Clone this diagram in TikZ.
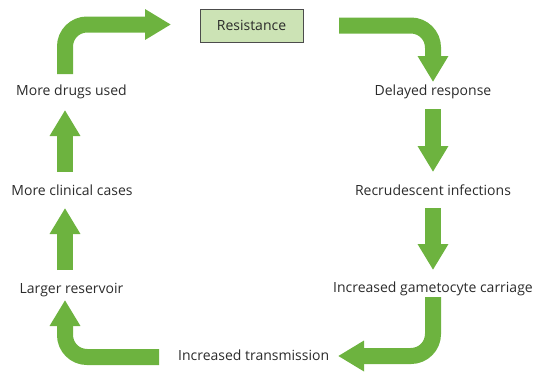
\documentclass[tikz,border=0pt]{standalone}
\usepackage{fontspec}
\setmainfont{Open Sans}
\usetikzlibrary{arrows.meta}
\definecolor{arrgreen}{HTML}{6DB33F}
\definecolor{boxfill}{HTML}{CCE3B5}
\definecolor{txt}{HTML}{2B2B2B}
\begin{document}
\begin{tikzpicture}[x=1pt,y=-1pt,
  lbl/.style={text=txt,font=\fontsize{14}{16}\selectfont,inner sep=0pt},
  bigarrow/.style={draw=arrgreen,line width=16pt,rounded corners=22pt,
    -{Triangle[width=29pt,length=26pt,fill=arrgreen]}}]
\useasboundingbox (0,0) rectangle (536,373);
\node[lbl,draw=black!70,fill=boxfill,line width=1pt,minimum width=103pt,minimum height=33pt] (res) at (251.5,25.5) {Resistance};
\node[lbl] (del) at (433,92) {Delayed response};
\node[lbl] (rec) at (433,190) {Recrudescent infections};
\node[lbl] (gam) at (433,289) {Increased gametocyte carriage};
\node[lbl,anchor=west] (tra) at (178,355) {Increased transmission};
\node[lbl] (res2) at (71.5,290) {Larger reservoir};
\node[lbl] (cli) at (72,190) {More clinical cases};
\node[lbl] (dru) at (71.5,92) {More drugs used};
% connector end points
\coordinate (a1s) at (65,74);   \coordinate (a1c) at (65,24.5); \coordinate (a1e) at (171,24.5);
\coordinate (a2s) at (339,25.5); \coordinate (a2c) at (433,25.5); \coordinate (a2e) at (433,82);
\coordinate (a3s) at (433,109); \coordinate (a3e) at (433,172);
\coordinate (a4s) at (433,208); \coordinate (a4e) at (433,270);
\coordinate (a5s) at (433,297); \coordinate (a5c) at (433,356); \coordinate (a5e) at (338,356);
\coordinate (a6s) at (159,357); \coordinate (a6c) at (65,357); \coordinate (a6e) at (65,300);
\coordinate (a7s) at (65,270);  \coordinate (a7e) at (65,208);
\coordinate (a8s) at (65,172);  \coordinate (a8e) at (65,110);
\draw[bigarrow] (a1s) -- (a1c) -- (a1e);
\draw[bigarrow] (a2s) -- (a2c) -- (a2e);
\draw[bigarrow] (a3s) -- (a3e);
\draw[bigarrow] (a4s) -- (a4e);
\draw[bigarrow] (a5s) -- (a5c) -- (a5e);
\draw[bigarrow] (a6s) -- (a6c) -- (a6e);
\draw[bigarrow] (a7s) -- (a7e);
\draw[bigarrow] (a8s) -- (a8e);
\end{tikzpicture}
\end{document}
